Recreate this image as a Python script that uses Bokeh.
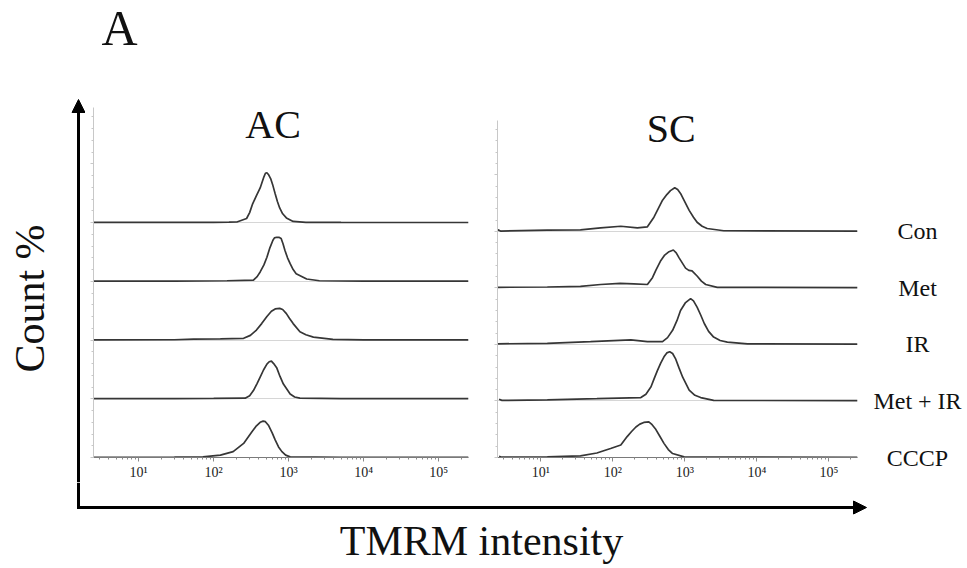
import math
from bokeh.plotting import figure
from bokeh.models import (Range1d, FixedTicker, CustomJSTickFormatter, Label, Arrow,
                          NormalHead, SingleIntervalTicker)
from bokeh.layouts import row, column
from bokeh.embed import file_html
from bokeh.resources import INLINE

# ---------------- data ----------------
conditions = ["Con", "Met", "IR", "Met + IR", "CCCP"]
panel_names = ["AC", "SC"]
tick_values = [10, 100, 1000, 10000, 100000]
tick_labels = ["10\u00b9", "10\u00b2", "10\u00b3", "10\u2074", "10\u2075"]

# AC panel (TMRM intensity, count % of lane)
ac_con_x = [2.5, 30, 100, 160, 204, 275, 302, 331, 372, 417, 468, 490, 513, 537, 575, 617, 661, 708, 759, 832, 933, 1148, 1698, 5000, 250000]
ac_con_y = [0.3, 0.3, 0.5, 0.8, 1, 7, 17, 32, 46, 59, 78, 84, 85, 82, 75, 63, 49, 36, 25, 15, 8, 2, 0.5, 0.3, 0.2]
ac_met_x = [2.5, 30, 151, 339, 380, 417, 468, 513, 562, 617, 646, 692, 741, 794, 841, 891, 966, 1047, 1148, 1259, 1738, 2570, 10000, 250000]
ac_met_y = [0.3, 0.4, 1, 2, 8, 16, 28, 41, 57, 70, 74, 75, 75, 73, 64, 53, 40, 30, 20, 13, 4, 1, 0.3, 0.2]
ac_ir_x = [2.5, 30, 54, 123, 251, 309, 372, 437, 513, 589, 661, 759, 832, 933, 1023, 1148, 1413, 1698, 2138, 3890, 10000, 250000]
ac_ir_y = [0.3, 0.5, 1.5, 2, 3, 8, 17, 28, 40, 49, 53, 54, 52, 45, 37, 28, 14, 9, 5, 1, 0.4, 0.2]
ac_metir_x = [2.5, 30, 100, 263, 302, 339, 376, 417, 462, 513, 550, 589, 631, 692, 767, 851, 1047, 1202, 1413, 5000, 250000]
ac_metir_y = [0.3, 0.4, 0.6, 1, 5, 14, 25, 37, 49, 59, 63, 64, 60, 53, 38, 25, 8, 3, 1, 0.3, 0.2]
ac_cccp_x = [2.5, 30, 72, 123, 182, 251, 324, 372, 417, 457, 490, 537, 603, 661, 733, 813, 912, 1047, 5000, 250000]
ac_cccp_y = [0.3, 0.5, 1, 4, 10, 24, 44, 54, 60, 62, 61, 55, 42, 30, 18, 10, 4, 1, 0.3, 0.2]

# SC panel
sc_con_x = [2.5, 2.75, 12.3, 35.5, 67.6, 129, 219, 302, 372, 427, 490, 562, 631, 724, 794, 871, 1000, 1148, 1318, 1479, 1738, 2042, 3467, 250000]
sc_con_y = [3, 0.5, 2, 2.7, 6, 9, 6, 8, 25, 40, 55, 65, 72, 77, 74, 67, 52, 37, 25, 16, 9, 5, 1, 0.5]
sc_met_x = [2.5, 12.3, 35.5, 67.6, 126, 195, 302, 355, 398, 457, 525, 603, 692, 759, 832, 1023, 1135, 1259, 1479, 1698, 1950, 2818, 250000]
sc_met_y = [1, 1.5, 2.5, 6, 8, 7, 6, 18, 32, 47, 58, 64, 67, 62, 53, 35, 31, 30, 21, 12, 6, 1, 0.5]
sc_ir_x = [2.5, 12.3, 49, 178, 302, 490, 575, 676, 776, 871, 1023, 1202, 1318, 1479, 1660, 1862, 2138, 2512, 3090, 3890, 7413, 250000]
sc_ir_y = [1, 2, 5, 8, 5, 5, 12, 25, 42, 60, 74, 81, 77, 66, 52, 37, 23, 13, 7, 4, 1, 0.5]
sc_metir_x = [2.63, 2.88, 12.3, 60, 245, 288, 339, 376, 417, 462, 513, 562, 617, 676, 741, 832, 933, 1148, 1380, 1660, 2512, 250000]
sc_metir_y = [3, 1, 2, 4, 6, 12, 25, 40, 54, 67, 78, 85, 87, 84, 75, 58, 42, 19, 10, 6, 1, 0.5]
sc_cccp_x = [2.63, 2.88, 12.3, 35.5, 60, 93, 129, 158, 182, 209, 237, 269, 316, 351, 389, 447, 513, 589, 676, 977, 250000]
sc_cccp_y = [2, 0.5, 1, 3, 8, 16, 22, 37, 46, 54, 59, 62, 63, 58, 51, 38, 25, 14, 7, 1, 0.3]

ac_series = [(ac_con_x, ac_con_y), (ac_met_x, ac_met_y), (ac_ir_x, ac_ir_y),
             (ac_metir_x, ac_metir_y), (ac_cccp_x, ac_cccp_y)]
sc_series = [(sc_con_x, sc_con_y), (sc_met_x, sc_met_y), (sc_ir_x, sc_ir_y),
             (sc_metir_x, sc_metir_y), (sc_cccp_x, sc_cccp_y)]

# ---------------- layout constants (pixels) ----------------
SERIF = "Liberation Serif"
CURVE = "#363636"
INK = "#111111"
LANE = 100
N = len(conditions)
offsets = [(N - 1 - i) * LANE for i in range(N)]   # Con on top, CCCP at bottom
AC_TOP = 596        # top of the AC lanes axis
SC_TOP = 619        # SC lanes are a little tighter -> larger range in same frame
SC_AXIS_TOP = 596

W, H = 967, 568
TOP_H = 95           # strip above the panels
MID_H = 387          # panels row
BOT_H = H - TOP_H - MID_H
LEFT_W = 85
RIGHT_W = 102
AC_W, SC_W = 395, 385
FRAME_BOTTOM_BORDER = 25
FRAME_TOP_BORDER = 12
SC_FRAME_H = MID_H - FRAME_BOTTOM_BORDER - FRAME_TOP_BORDER
SC_PX = SC_FRAME_H / SC_TOP          # px per count unit in SC

minor = [m * 10 ** k for k in range(0, 6) for m in range(2, 10)]


def make_panel(width, bl, br, name, series, ytop, axis_top, name_xy):
    p = figure(width=width, height=MID_H, x_axis_type="log",
               x_range=Range1d(2.5, 2.5e5), y_range=Range1d(0, ytop),
               output_backend="svg", toolbar_location=None,
               min_border_left=bl, min_border_right=br,
               min_border_top=FRAME_TOP_BORDER, min_border_bottom=FRAME_BOTTOM_BORDER)
    p.outline_line_color = None
    p.grid.visible = False
    ax = p.xaxis[0]
    ax.ticker = FixedTicker(ticks=tick_values, minor_ticks=minor)
    ax.formatter = CustomJSTickFormatter(args=dict(vals=tick_values, labs=tick_labels),
                                         code="const i = vals.indexOf(tick); return i >= 0 ? labs[i] : '';")
    ax.axis_line_color = "#7a7a7a"
    ax.major_tick_line_color = "#8a8a8a"
    ax.minor_tick_line_color = "#8a8a8a"
    ax.major_tick_in = 0
    ax.major_tick_out = 4
    ax.minor_tick_in = 0
    ax.minor_tick_out = 2
    ax.major_label_standoff = 3
    ax.major_label_text_font = SERIF
    ax.major_label_text_font_size = "14px"
    ax.major_label_text_color = "#222222"
    ay = p.yaxis[0]
    ay.bounds = (0, axis_top)
    ay.ticker = SingleIntervalTicker(interval=100, num_minor_ticks=5)
    ay.formatter = CustomJSTickFormatter(code="return '';")
    ay.axis_line_color = "#c8c8c8"
    ay.major_tick_line_color = "#c8c8c8"
    ay.minor_tick_line_color = "#c8c8c8"
    ay.major_tick_in = 0
    ay.major_tick_out = 3
    ay.minor_tick_in = 0
    ay.minor_tick_out = 2
    ay.major_label_standoff = 0
    p.hspan(y=offsets, line_color="#d6d6d6", line_width=1)
    for (xs, ys), off in zip(series, offsets):
        p.line(xs, [v + off for v in ys], line_color=CURVE, line_width=1.7)
    p.add_layout(Label(x=name_xy[0], y=name_xy[1], text=name, text_font=SERIF,
                       text_font_size="40px", text_align="center",
                       text_baseline="middle", text_color=INK))
    return p


panel_ac = make_panel(AC_W, 8, 12, panel_names[0], ac_series, AC_TOP, AC_TOP, (621, 567))
panel_sc = make_panel(SC_W, 17, 8, panel_names[1], sc_series, SC_TOP, SC_AXIS_TOP, (646, 581))


def blank(width, height, xr, yr):
    f = figure(width=width, height=height, x_range=xr, y_range=yr,
               x_axis_location=None, y_axis_location=None, min_border=0,
               output_backend="svg", toolbar_location=None)
    f.outline_line_color = None
    f.grid.visible = False
    return f


# left strip: "Count %" and upper part of the vertical arrow
top_h = TOP_H + MID_H
ls = blank(LEFT_W, top_h, Range1d(0, LEFT_W), Range1d(0, top_h))
ls.add_layout(Arrow(end=NormalHead(size=13, fill_color="black", line_color="black", line_width=1),
                    x_start=78, y_start=0, x_end=78, y_end=top_h - 99,
                    line_width=3, line_color="black"))
ls.add_layout(Label(x=29, y=top_h - 298, text="Count %", text_font=SERIF, text_font_size="42px",
                    text_align="center", text_baseline="middle", angle=math.pi / 2,
                    text_color=INK))

# top strip: panel letter
ts = blank(AC_W + SC_W, TOP_H, Range1d(0, AC_W + SC_W), Range1d(0, TOP_H))
ts.add_layout(Label(x=119 - LEFT_W, y=TOP_H - 27, text="A", text_font=SERIF, text_font_size="50px",
                    text_align="center", text_baseline="middle", text_color=INK))

# right strip: condition names, on the SC lane scale
frame_bottom_y = TOP_H + MID_H - FRAME_BOTTOM_BORDER   # pixel row of the x axes
rs = blank(RIGHT_W, top_h, Range1d(0, RIGHT_W),
           Range1d(-(top_h - frame_bottom_y) / SC_PX, frame_bottom_y / SC_PX))
for cond, off in zip(conditions, offsets):
    rs.add_layout(Label(x=917 - (W - RIGHT_W), y=off, text=cond, text_font=SERIF,
                        text_font_size="24px", text_align="center",
                        text_baseline="middle", text_color=INK))

# bottom strip: rest of the vertical arrow, horizontal arrow, axis title
bs = blank(W, BOT_H, Range1d(0, W), Range1d(0, BOT_H))
arrow_y = H - 507
bs.line([78, 78], [BOT_H, arrow_y - 1.5], line_color="black", line_width=3)
bs.add_layout(Arrow(end=NormalHead(size=13, fill_color="black", line_color="black", line_width=1),
                    x_start=76.5, y_start=arrow_y, x_end=866, y_end=arrow_y,
                    line_width=3, line_color="black"))
bs.add_layout(Label(x=481, y=H - 540, text="TMRM intensity", text_font=SERIF, text_font_size="42px",
                    text_align="center", text_baseline="middle", text_color=INK))

layout = column(row(ls, column(ts, row(panel_ac, panel_sc)), rs), bs)

open("out.html", "w").write(file_html(layout, INLINE))
